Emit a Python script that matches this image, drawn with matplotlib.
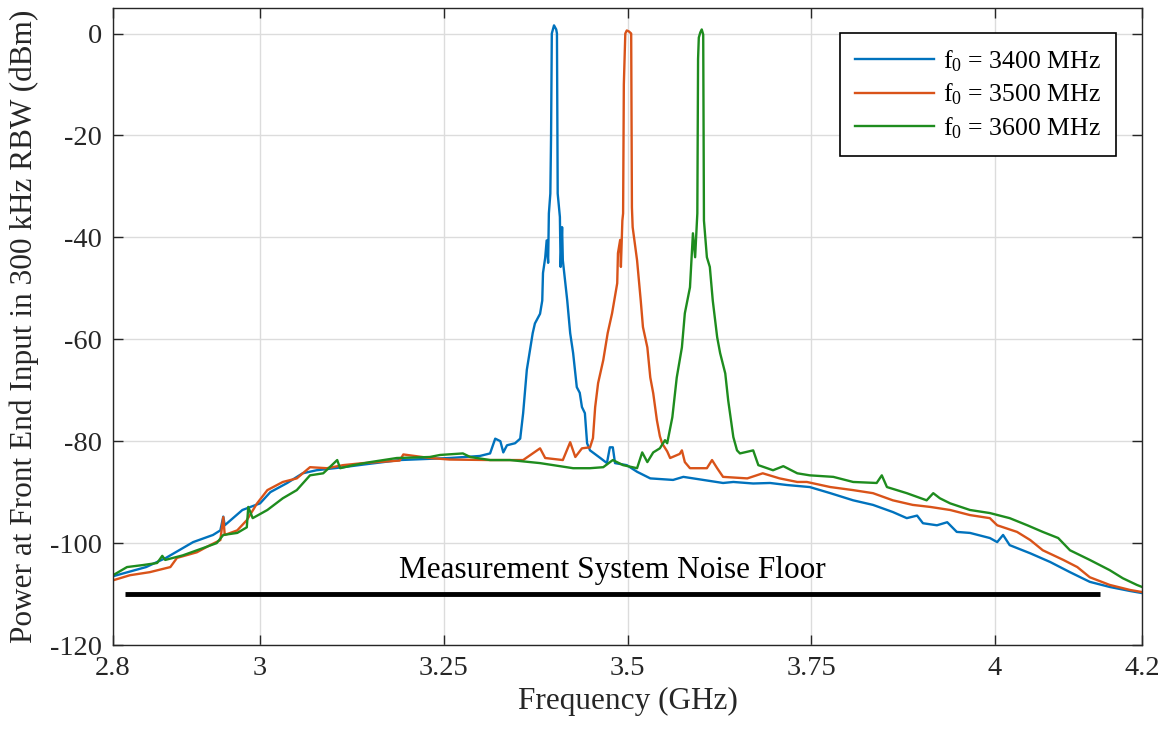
import numpy as np
import matplotlib
matplotlib.use('Agg')
import matplotlib.pyplot as plt

plt.rcParams['font.family'] = ['Liberation Serif', 'DejaVu Serif']
plt.rcParams['mathtext.fontset'] = 'custom'
plt.rcParams['mathtext.rm'] = 'Liberation Serif'
plt.rcParams['mathtext.it'] = 'Liberation Serif:italic'
plt.rcParams['axes.unicode_minus'] = False

# Spectrum traces (frequency in GHz, power in dBm)
freq_3400 = [2.800, 2.845, 2.872, 2.909, 2.936, 2.946, 2.950, 2.952, 2.976, 3.000,
             3.014, 3.037, 3.058, 3.077, 3.113, 3.140, 3.190, 3.258, 3.299, 3.313,
             3.320, 3.327, 3.331, 3.336, 3.347, 3.354, 3.358, 3.363, 3.371, 3.374,
             3.381, 3.384, 3.385, 3.388, 3.390, 3.392, 3.393, 3.395, 3.396, 3.397,
             3.400, 3.403, 3.404, 3.405, 3.408, 3.409, 3.411, 3.412, 3.418, 3.422,
             3.426, 3.431, 3.435, 3.438, 3.442, 3.445, 3.449, 3.463, 3.472, 3.476,
             3.480, 3.483, 3.499, 3.513, 3.531, 3.562, 3.576, 3.603, 3.630, 3.644,
             3.671, 3.694, 3.717, 3.748, 3.776, 3.807, 3.834, 3.861, 3.880, 3.894,
             3.902, 3.921, 3.935, 3.948, 3.966, 3.993, 4.003, 4.011, 4.020, 4.048,
             4.075, 4.102, 4.129, 4.156, 4.184, 4.200]
pwr_3400 = [-106.5, -104.7, -102.9, -99.8, -98.4, -97.5, -94.8, -96.5, -93.5, -92.2,
            -90.0, -88.2, -86.3, -85.7, -85.1, -84.6, -83.7, -83.3, -82.9, -82.4,
            -79.5, -80.0, -82.2, -80.8, -80.4, -79.5, -74.5, -66.0, -58.8, -56.9,
            -55.0, -52.4, -47.0, -44.0, -40.6, -45.0, -35.3, -31.4, -20.0, 0.0,
            1.6, 0.8, 0.0, -31.4, -36.0, -45.8, -38.0, -44.5, -52.4, -58.8,
            -62.7, -69.4, -70.5, -73.3, -74.5, -80.4, -81.8, -83.3, -84.3, -81.2,
            -81.2, -84.3, -84.7, -86.0, -87.3, -87.6, -87.0, -87.6, -88.2, -88.0,
            -88.3, -88.2, -88.6, -89.0, -90.2, -91.6, -92.5, -93.9, -95.1, -94.6,
            -96.1, -96.5, -95.9, -97.8, -98.0, -99.0, -99.8, -98.4, -100.4, -102.0,
            -103.7, -105.7, -107.6, -108.6, -109.4, -109.8]

freq_3500 = [2.800, 2.823, 2.850, 2.878, 2.887, 2.914, 2.932, 2.946, 2.950, 2.952,
             2.969, 2.982, 2.996, 3.010, 3.031, 3.050, 3.068, 3.091, 3.113, 3.140,
             3.190, 3.195, 3.231, 3.258, 3.313, 3.358, 3.381, 3.388, 3.412, 3.422,
             3.429, 3.438, 3.449, 3.453, 3.456, 3.460, 3.467, 3.473, 3.479, 3.486,
             3.487, 3.490, 3.491, 3.493, 3.494, 3.495, 3.497, 3.499, 3.502, 3.505,
             3.506, 3.507, 3.513, 3.518, 3.521, 3.527, 3.531, 3.535, 3.540, 3.544,
             3.547, 3.554, 3.558, 3.571, 3.574, 3.578, 3.585, 3.608, 3.615, 3.622,
             3.630, 3.663, 3.684, 3.707, 3.731, 3.744, 3.776, 3.807, 3.834, 3.861,
             3.888, 3.912, 3.939, 3.966, 3.993, 4.003, 4.030, 4.048, 4.065, 4.093,
             4.112, 4.129, 4.156, 4.184, 4.200]
pwr_3500 = [-107.3, -106.3, -105.7, -104.7, -102.9, -101.8, -100.4, -99.4, -94.9, -98.4,
            -97.5, -95.5, -92.2, -89.6, -88.0, -87.3, -85.1, -85.3, -84.7, -84.3,
            -83.8, -82.6, -83.3, -83.6, -83.7, -83.7, -81.4, -83.3, -83.7, -80.2,
            -83.1, -81.4, -81.2, -79.4, -73.3, -68.6, -64.1, -58.8, -54.9, -49.0,
            -43.1, -40.5, -45.8, -36.7, -35.3, -10.0, 0.0, 0.6, 0.4, 0.0,
            -34.1, -38.0, -44.5, -52.4, -57.6, -61.6, -67.5, -70.6, -75.9, -79.0,
            -80.4, -82.0, -83.3, -82.5, -81.8, -84.1, -85.3, -85.3, -83.7, -85.3,
            -87.0, -87.3, -86.3, -87.3, -88.0, -88.0, -89.0, -89.6, -90.2, -91.6,
            -92.5, -92.9, -93.5, -94.5, -95.1, -96.5, -97.8, -99.4, -101.4, -103.3,
            -104.7, -106.7, -108.2, -109.2, -109.6]

freq_3600 = [2.800, 2.819, 2.841, 2.860, 2.867, 2.871, 2.895, 2.922, 2.941, 2.950,
             2.969, 2.982, 2.984, 2.990, 3.010, 3.031, 3.050, 3.068, 3.086, 3.105,
             3.109, 3.127, 3.150, 3.186, 3.231, 3.245, 3.276, 3.286, 3.313, 3.340,
             3.381, 3.426, 3.449, 3.467, 3.480, 3.494, 3.513, 3.520, 3.527, 3.535,
             3.544, 3.551, 3.554, 3.561, 3.567, 3.574, 3.578, 3.585, 3.589, 3.592,
             3.595, 3.596, 3.597, 3.599, 3.601, 3.603, 3.604, 3.608, 3.612, 3.616,
             3.622, 3.626, 3.633, 3.637, 3.644, 3.649, 3.653, 3.671, 3.678, 3.698,
             3.712, 3.731, 3.748, 3.780, 3.807, 3.839, 3.846, 3.853, 3.880, 3.907,
             3.916, 3.925, 3.939, 3.966, 3.993, 4.020, 4.044, 4.065, 4.086, 4.102,
             4.129, 4.156, 4.174, 4.193, 4.200]
pwr_3600 = [-106.3, -104.7, -104.3, -103.9, -102.5, -103.3, -102.4, -101.0, -100.0, -98.4,
            -98.0, -96.9, -92.9, -95.1, -93.5, -91.2, -89.6, -86.7, -86.3, -83.7,
            -85.3, -84.7, -84.1, -83.3, -83.1, -82.7, -82.4, -83.1, -83.7, -83.7,
            -84.3, -85.3, -85.3, -85.1, -83.7, -84.7, -85.3, -82.2, -84.1, -82.2,
            -81.4, -79.8, -80.4, -75.3, -67.5, -61.6, -54.9, -49.8, -39.2, -43.9,
            -35.3, -5.0, -0.8, 0.2, 0.8, -0.2, -36.7, -43.9, -45.8, -52.4,
            -59.6, -62.7, -66.7, -72.0, -79.2, -81.8, -82.4, -81.8, -84.7, -85.7,
            -84.9, -86.3, -86.7, -87.0, -88.0, -88.2, -86.7, -89.0, -90.2, -91.6,
            -90.2, -91.2, -92.2, -93.5, -94.1, -95.1, -96.5, -97.8, -99.0, -101.4,
            -103.3, -105.3, -106.9, -108.2, -108.6]

labels = [r'f$_0$ = 3400 MHz', r'f$_0$ = 3500 MHz', r'f$_0$ = 3600 MHz']
colors = ['#0072BD', '#D95319', '#1E8C1E']

noise_floor = -110
noise_span = [2.816, 4.143]

fig = plt.figure(figsize=(11.75, 7.31), dpi=100)
ax = fig.add_axes([0.0962, 0.1176, 0.8757, 0.8714])

for f, p, lab, c in zip([freq_3400, freq_3500, freq_3600],
                        [pwr_3400, pwr_3500, pwr_3600], labels, colors):
    ax.plot(f, p, color=c, lw=1.7, label=lab)

ax.plot(noise_span, [noise_floor, noise_floor], color='black', lw=3.5, solid_capstyle='butt')
ax.text(np.mean(noise_span), noise_floor + 4.6, 'Measurement System Noise Floor',
        ha='center', va='center', fontsize=22.5)

ax.set_xlim(2.8, 4.2)
ax.set_ylim(-120, 5)
ax.set_xticks([2.8, 3, 3.25, 3.5, 3.75, 4, 4.2])
ax.set_xticklabels(['2.8', '3', '3.25', '3.5', '3.75', '4', '4.2'])
ax.set_yticks(np.arange(-120, 1, 20))
ax.grid(True, color='#dcdcdc', lw=1)
ax.set_axisbelow(True)
ax.tick_params(direction='in', length=7, width=1, top=True, right=True,
               labelsize=20.5, pad=8, colors='#262626', labelcolor='#262626')
for s in ax.spines.values():
    s.set_color('#262626')
    s.set_linewidth(1)

ax.set_xlabel('Frequency (GHz)', fontsize=22.5, color='#262626', labelpad=4)
ax.set_ylabel('Power at Front End Input in 300 kHz RBW (dBm)', fontsize=22.5,
              color='#262626', labelpad=8)

leg = ax.legend(loc='upper right', bbox_to_anchor=(0.9747, 0.9608), fontsize=18.5,
                handlelength=3.05, fancybox=False, framealpha=1, borderaxespad=0,
                labelspacing=0.3, handletextpad=0.35, borderpad=0.6)
leg.get_frame().set_edgecolor('black')
leg.get_frame().set_linewidth(1.2)

fig.savefig('out.png', dpi=100)
